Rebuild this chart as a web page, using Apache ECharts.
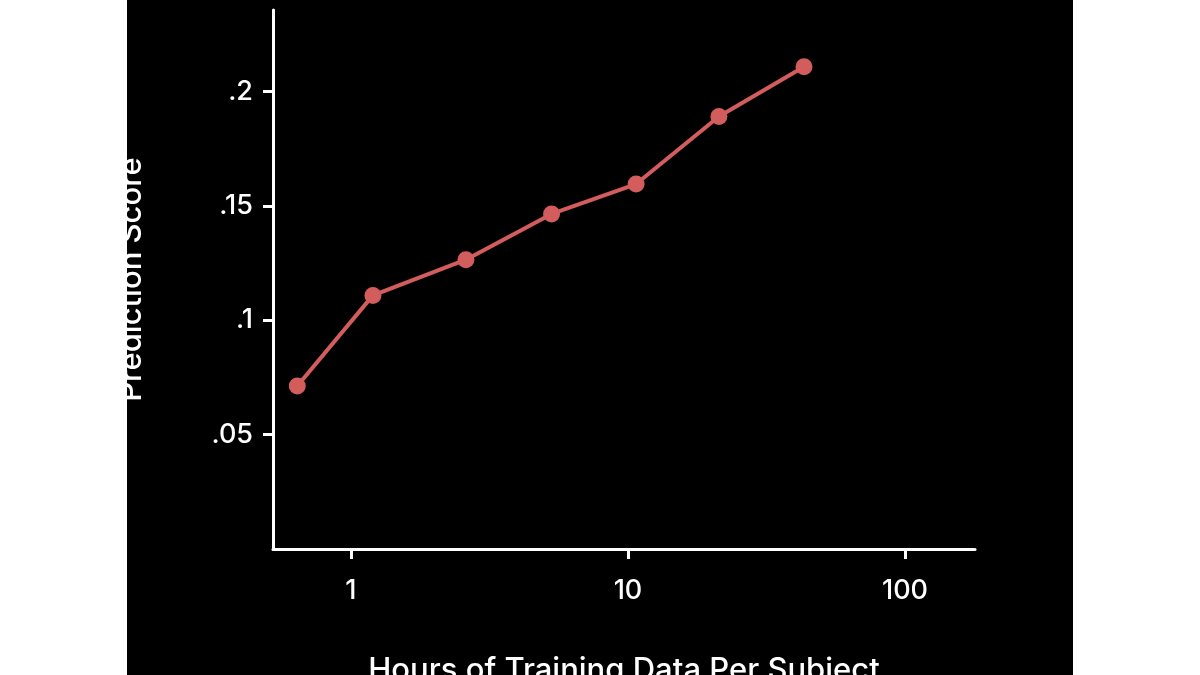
<!DOCTYPE html>
<html><head><meta charset="utf-8">
<script src="https://cdn.jsdelivr.net/npm/echarts@6/dist/echarts.min.js"></script>
<style>
html,body{margin:0;padding:0;background:#fff;}
#panel{position:absolute;left:127px;top:0;width:946px;height:675px;background:#000;}
#chart{position:absolute;left:0;top:0;width:1200px;height:675px;}
</style></head>
<body>
<div id="panel"></div>
<div id="chart"></div>
<script>
// hours of training data per subject vs prediction score
const hours = [0.64, 1.2, 2.6, 5.3, 10.7, 21.3, 43.2]
const scores = [0.0713, 0.1109, 0.1265, 0.1465, 0.1596, 0.1891, 0.2109]
const xTicks = [1, 10, 100]
const yTicks = [0.05, 0.1, 0.15, 0.2]
const xName = 'Hours of Training Data Per Subject'
const yName = 'Prediction Score'

const chart = echarts.init(document.getElementById('chart'))
const white = '#fff'
const font = 'Inter, "Noto Sans", sans-serif'

chart.setOption({
  backgroundColor: 'transparent',
  grid: { left: 273, right: 225, top: 10, bottom: 126, outerBoundsMode: 'none', containLabel: false },
  xAxis: {
    type: 'log', logBase: 10, min: 0.523, max: 179,
    name: xName, nameLocation: 'middle', nameGap: 106,
    nameTextStyle: { color: white, fontSize: 31, fontWeight: 500, fontFamily: font },
    axisLine: { lineStyle: { color: white, width: 3 } },
    axisTick: { length: 10, customValues: xTicks, lineStyle: { color: white, width: 3 } },
    axisLabel: { color: white, fontSize: 27, fontWeight: 500, fontFamily: font, margin: 28, customValues: xTicks },
    splitLine: { show: false }, minorTick: { show: false }
  },
  yAxis: {
    type: 'value', min: 0, max: 0.2357,
    name: yName, nameLocation: 'middle', nameGap: 126,
    nameTextStyle: { color: white, fontSize: 31, fontWeight: 500, fontFamily: font },
    axisLine: { show: true, lineStyle: { color: white, width: 3 } },
    axisTick: { show: true, length: 10, customValues: yTicks, lineStyle: { color: white, width: 3 } },
    axisLabel: {
      color: white, fontSize: 27, fontWeight: 500, fontFamily: font, margin: 20, customValues: yTicks,
      formatter: v => String(+v.toFixed(2)).replace(/^0/, '')
    },
    splitLine: { show: false }
  },
  series: [{
    type: 'line',
    data: hours.map((h, i) => [h, scores[i]]),
    symbol: 'circle', symbolSize: 17,
    lineStyle: { color: '#d35c5c', width: 4 },
    itemStyle: { color: '#d35c5c' },
    animation: false
  }]
})
</script>
</body></html>
